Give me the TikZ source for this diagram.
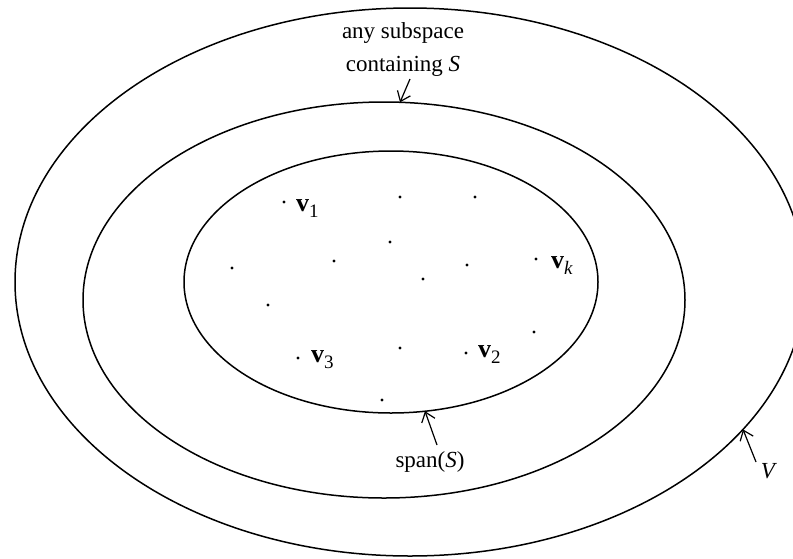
\documentclass[tikz,border=0pt]{standalone}
\usepackage{fontspec}
\setmainfont{Liberation Serif}
\usetikzlibrary{arrows.meta}
\newcommand{\vsub}[1]{\textbf{v}\raisebox{-0.55ex}{\fontsize{19}{19}\selectfont #1}}
\begin{document}
\begin{tikzpicture}[x=1pt,y=-1pt,
  curve/.style={line width=1.5pt},
  lbl/.style={font=\fontsize{23}{33}\selectfont, inner sep=0pt, align=center},
  pt/.style={circle, fill=black, inner sep=0pt, minimum size=3.2pt},
  vlab/.style={font=\fontsize{26}{28}\selectfont, inner sep=0pt, anchor=base west},
  pointer/.style={line width=1.2pt, -{Straight Barb[length=9pt,width=14pt]}}]
\useasboundingbox (0,0) rectangle (793,558);
\fill[white] (0,0) rectangle (793,558);
\begin{scope}
\clip (0,0) rectangle (793,558);
\draw[curve] (410,282) ellipse [x radius=395, y radius=274];
\end{scope}
\draw[curve] (384,300) ellipse [x radius=301, y radius=198];
\draw[curve] (391,282) ellipse [x radius=207, y radius=131];

% labels
\node[lbl, anchor=base] (anysub) at (403,71) {any subspace\\containing \textit{S}};
\node[lbl, anchor=base] (span) at (430,467) {span(\textit{S})};
\node[lbl, anchor=base] (vlabel) at (769,478) {\textit{V}};

% arrows
\coordinate (t1) at (410,79);
\coordinate (h1) at (400,102.3);
\coordinate (t2) at (437,445);
\coordinate (h2) at (425,411.2);
\coordinate (t3) at (756,462);
\coordinate (h3) at (743,429.4);
\draw[pointer] (t1) -- (h1);
\draw[pointer] (t2) -- (h2);
\draw[pointer] (t3) -- (h3);

% points
\node[pt] (p1) at (284,202) {};
\node[pt] (p2) at (400,197) {};
\node[pt] (p3) at (475,197) {};
\node[pt] (p4) at (390,242) {};
\node[pt] (p5) at (334,261) {};
\node[pt] (p6) at (467,265) {};
\node[pt] (p7) at (423,279) {};
\node[pt] (p8) at (536,259) {};
\node[pt] (p9) at (232,268) {};
\node[pt] (p10) at (268,305) {};
\node[pt] (p11) at (534,332) {};
\node[pt] (p12) at (400,348) {};
\node[pt] (p13) at (298,358) {};
\node[pt] (p14) at (466,353) {};
\node[pt] (p15) at (382,400) {};

\node[vlab] (l1) at (296,211) {\vsub{1}};
\node[vlab] (lk) at (551,268) {\vsub{\textit{k}}};
\node[vlab] (l3) at (311,362) {\vsub{3}};
\node[vlab] (l2) at (478,357) {\vsub{2}};
\end{tikzpicture}
\end{document}
